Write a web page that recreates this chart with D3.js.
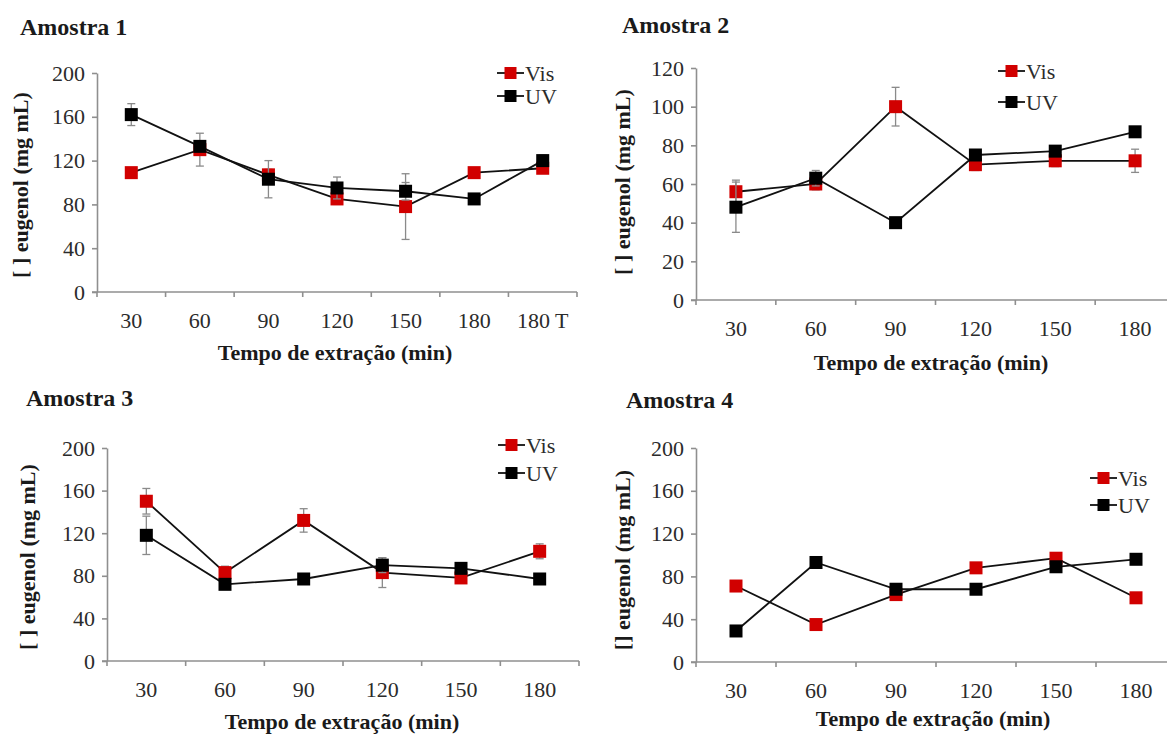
<!DOCTYPE html>
<html lang="pt">
<head>
<meta charset="UTF-8">
<title>Amostras - eugenol</title>
<script src="https://d3js.org/d3.v7.min.js"></script>
<style>
  body { margin: 0; background: #fff; }
  svg text { font-family: "Liberation Serif", "Times New Roman", serif; }
</style>
</head>
<body>
<svg id="chart" width="1167" height="736"></svg>
<script>
// categories (tempo de extração, min)
var cats1 = ["30", "60", "90", "120", "150", "180", "180 T"];
var cats = ["30", "60", "90", "120", "150", "180"];

// Amostra 1
var vis1 = [109, 130, 107, 85, 78, 109, 113];
var visErr1 = [4, 15, 5, 5, 30, 3, 3];
var uv1 = [162, 133, 103, 95, 92, 85, 120];
var uvErr1 = [10, 4, 17, 10, 8, 3, 5];

// Amostra 2
var vis2 = [56, 60, 100, 70, 72, 72];
var visErr2 = [6, 3, 10, 3, 3, 6];
var uv2 = [48, 63, 40, 75, 77, 87];
var uvErr2 = [13, 4, 2, 2, 2, 2];

// Amostra 3
var vis3 = [150, 83, 132, 83, 78, 103];
var visErr3 = [12, 6, 11, 14, 3, 7];
var uv3 = [118, 72, 77, 90, 87, 77];
var uvErr3 = [18, 3, 3, 7, 4, 3];

// Amostra 4
var vis4 = [71, 35, 63, 88, 97, 60];
var visErr4 = [2, 2, 2, 2, 2, 2];
var uv4 = [29, 93, 68, 68, 89, 96];
var uvErr4 = [2, 2, 2, 2, 2, 2];

var yTicks200 = [0, 40, 80, 120, 160, 200];
var yTicks120 = [0, 20, 40, 60, 80, 100, 120];

var svg = d3.select("#chart");
svg.append("rect").attr("width", 1167).attr("height", 736).attr("fill", "#fff");

var panels = [
  { title: "Amostra 1", tx: 20, ty: 35, cats: cats1, vis: vis1, visErr: visErr1, uv: uv1, uvErr: uvErr1,
    ymax: 200, yTicks: yTicks200, x0: 97, x1: 577, yb: 292, yt: 73,
    ylab: "[ ] eugenol (mg mL)", ylx: 20, yly: 185, xlx: 335, xly: 352, legx: 497, legy: 73, legdy: 23 },
  { title: "Amostra 2", tx: 622, ty: 33, cats: cats, vis: vis2, visErr: visErr2, uv: uv2, uvErr: uvErr2,
    ymax: 120, yTicks: yTicks120, x0: 696, x1: 1175, yb: 300, yt: 68,
    ylab: "[ ] eugenol (mg mL)", ylx: 622, yly: 182, xlx: 931, xly: 362, legx: 998, legy: 71, legdy: 31 },
  { title: "Amostra 3", tx: 26, ty: 406, cats: cats, vis: vis3, visErr: visErr3, uv: uv3, uvErr: uvErr3,
    ymax: 200, yTicks: yTicks200, x0: 107, x1: 579, yb: 661, yt: 448,
    ylab: "[ ] eugenol (mg mL)", ylx: 27, yly: 557, xlx: 342, xly: 721, legx: 498, legy: 445, legdy: 28 },
  { title: "Amostra 4", tx: 626, ty: 408, cats: cats, vis: vis4, visErr: visErr4, uv: uv4, uvErr: uvErr4,
    ymax: 200, yTicks: yTicks200, x0: 696, x1: 1176, yb: 662, yt: 448,
    ylab: "[] eugenol (mg mL)", ylx: 622, yly: 560, xlx: 933, xly: 718, legx: 1090, legy: 478, legdy: 27 }
];

var axisColor = "#8f8f8f";
var textColor = "#2b2b2b";
var visColor = "#d10000";
var serif = "'Liberation Serif', 'Times New Roman', serif";

function drawPanel(p) {
  var g = svg.append("g");
  var x = d3.scaleBand().domain(p.cats).range([p.x0, p.x1]);
  var y = d3.scaleLinear().domain([0, p.ymax]).range([p.yb, p.yt]);
  var cx = function(c) { return x(c) + x.bandwidth() / 2; };

  // title
  g.append("text").attr("x", p.tx).attr("y", p.ty)
    .style("font-family", serif).attr("font-size", 24).attr("font-weight", "bold").attr("fill", "#1a1a1a")
    .text(p.title);

  // y axis
  var ya = g.append("g").attr("transform", "translate(" + p.x0 + ",0)")
    .call(d3.axisLeft(y).tickValues(p.yTicks).tickSize(5).tickSizeOuter(0).tickPadding(7));
  ya.select(".domain").attr("stroke", axisColor).attr("stroke-width", 1.6);
  ya.selectAll(".tick line").attr("stroke", axisColor).attr("stroke-width", 1.6);
  ya.selectAll(".tick text").style("font-family", serif).attr("font-size", 22).attr("fill", textColor);

  // x axis line and ticks at category boundaries
  g.append("line").attr("x1", p.x0 - 5).attr("x2", p.x1)
    .attr("y1", y(0)).attr("y2", y(0))
    .attr("stroke", axisColor).attr("stroke-width", 1.6);
  var edges = p.cats.map(function(c) { return x(c); }).concat([p.x1]);
  g.selectAll(".xt").data(edges).enter().append("line")
    .attr("x1", function(d) { return d; }).attr("x2", function(d) { return d; })
    .attr("y1", y(0)).attr("y2", y(0) + 5)
    .attr("stroke", axisColor).attr("stroke-width", 1.6);

  var xa = g.append("g").attr("transform", "translate(0," + y(0) + ")")
    .call(d3.axisBottom(x).tickSize(0).tickPadding(20));
  xa.select(".domain").remove();
  xa.selectAll(".tick text").style("font-family", serif).attr("font-size", 22).attr("fill", textColor);

  // axis titles
  g.append("text").attr("x", p.xlx).attr("y", p.xly).attr("dy", "0.35em")
    .style("font-family", serif).attr("text-anchor", "middle").attr("font-size", 22).attr("font-weight", "bold")
    .attr("fill", "#1a1a1a").text("Tempo de extração (min)");
  g.append("text").attr("transform", "translate(" + p.ylx + "," + p.yly + ") rotate(-90)")
    .style("font-family", serif).attr("dy", "0.35em").attr("text-anchor", "middle").attr("font-size", 22)
    .attr("font-weight", "bold").attr("fill", "#1a1a1a").text(p.ylab);

  var series = [
    { name: "Vis", vals: p.vis, err: p.visErr, color: visColor },
    { name: "UV", vals: p.uv, err: p.uvErr, color: "#000" }
  ];

  var line = d3.line()
    .x(function(d) { return cx(d.c); })
    .y(function(d) { return y(d.v); });

  series.forEach(function(s) {
    var pts = p.cats.map(function(c, i) { return { c: c, v: s.vals[i], e: s.err[i] }; });
    g.append("path").datum(pts).attr("d", line)
      .attr("fill", "none").attr("stroke", "#111").attr("stroke-width", 1.8);

    // error bars
    var eb = g.selectAll(null).data(pts).enter().append("g").attr("stroke", "#8a8a8a").attr("stroke-width", 1.3);
    eb.append("line")
      .attr("x1", function(d) { return cx(d.c); }).attr("x2", function(d) { return cx(d.c); })
      .attr("y1", function(d) { return y(d.v - d.e); }).attr("y2", function(d) { return y(d.v + d.e); });
    eb.append("line")
      .attr("x1", function(d) { return cx(d.c) - 4; }).attr("x2", function(d) { return cx(d.c) + 4; })
      .attr("y1", function(d) { return y(d.v + d.e); }).attr("y2", function(d) { return y(d.v + d.e); });
    eb.append("line")
      .attr("x1", function(d) { return cx(d.c) - 4; }).attr("x2", function(d) { return cx(d.c) + 4; })
      .attr("y1", function(d) { return y(d.v - d.e); }).attr("y2", function(d) { return y(d.v - d.e); });

    // markers
    g.selectAll(null).data(pts).enter().append("rect")
      .attr("x", function(d) { return cx(d.c) - 6.5; })
      .attr("y", function(d) { return y(d.v) - 6.5; })
      .attr("width", 13).attr("height", 13)
      .attr("fill", s.color);
  });

  // legend
  series.forEach(function(s, i) {
    var ly = p.legy + i * p.legdy;
    g.append("line").attr("x1", p.legx).attr("x2", p.legx + 27)
      .attr("y1", ly).attr("y2", ly).attr("stroke", "#111").attr("stroke-width", 1.8);
    g.append("rect").attr("x", p.legx + 13.5 - 6).attr("y", ly - 6)
      .attr("width", 12).attr("height", 12).attr("fill", s.color);
    g.append("text").attr("x", p.legx + 28).attr("y", ly).attr("dy", "0.35em")
      .style("font-family", serif).attr("font-size", 22).attr("fill", textColor).text(s.name);
  });
}

panels.forEach(drawPanel);
</script>
</body>
</html>
